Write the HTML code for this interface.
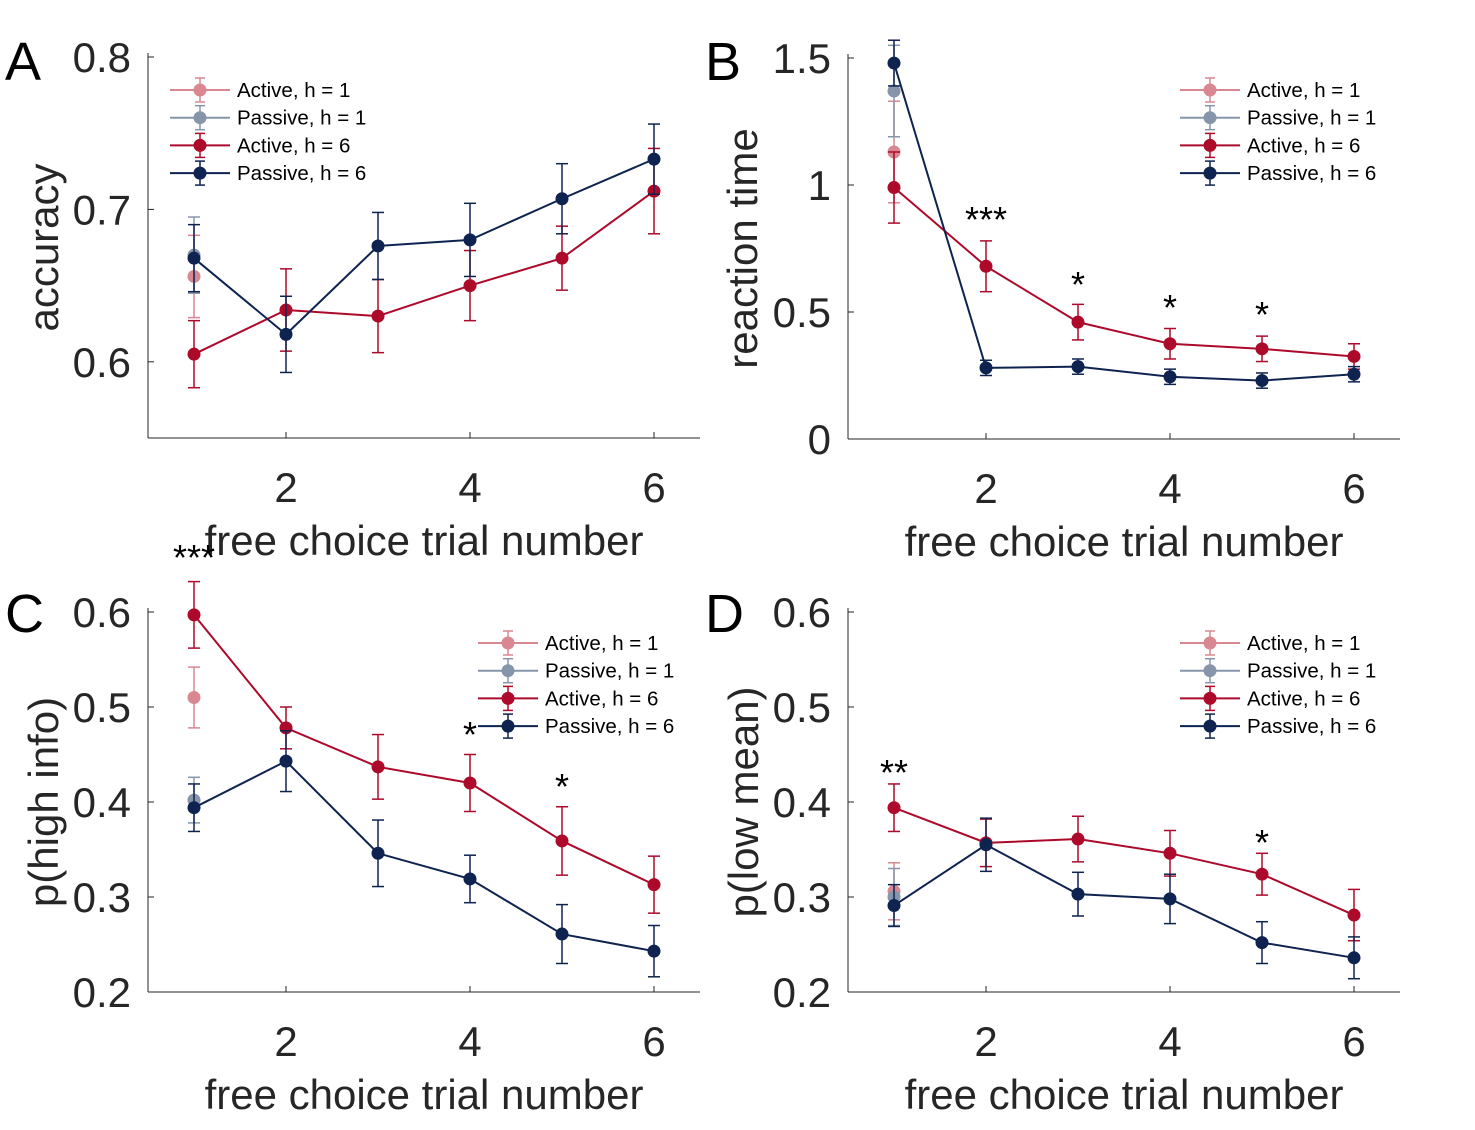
<!DOCTYPE html>
<html><head><meta charset="utf-8"><style>
body{margin:0;background:#fff;}
svg{display:block;font-family:"Liberation Sans",Arial,sans-serif;}
</style></head><body>
<svg id="fig" width="1475" height="1130"></svg>
<script>
const trials=[1,2,3,4,5,6];
const xTicks=[2,4,6];
// Panel A accuracy
const aActive6=[0.605,0.634,0.630,0.650,0.668,0.712];
const aActive6Err=[0.022,0.027,0.024,0.023,0.021,0.028];
const aPassive6=[0.668,0.618,0.676,0.680,0.707,0.733];
const aPassive6Err=[0.022,0.025,0.022,0.024,0.023,0.023];
const aActive1=[0.656];const aActive1Err=[0.027];
const aPassive1=[0.670];const aPassive1Err=[0.025];
// Panel B reaction time
const bActive6=[0.99,0.68,0.46,0.375,0.355,0.325];
const bActive6Err=[0.14,0.10,0.07,0.06,0.05,0.05];
const bPassive6=[1.48,0.28,0.285,0.245,0.23,0.255];
const bPassive6Err=[0.09,0.03,0.03,0.03,0.03,0.03];
const bActive1=[1.13];const bActive1Err=[0.2];
const bPassive1=[1.37];const bPassive1Err=[0.18];
// Panel C p(high info)
const cActive6=[0.597,0.478,0.437,0.420,0.359,0.313];
const cActive6Err=[0.035,0.022,0.034,0.030,0.036,0.030];
const cPassive6=[0.394,0.443,0.346,0.319,0.261,0.243];
const cPassive6Err=[0.025,0.032,0.035,0.025,0.031,0.027];
const cActive1=[0.51];const cActive1Err=[0.032];
const cPassive1=[0.402];const cPassive1Err=[0.024];
// Panel D p(low mean)
const dActive6=[0.394,0.357,0.361,0.346,0.324,0.281];
const dActive6Err=[0.025,0.025,0.024,0.024,0.022,0.027];
const dPassive6=[0.291,0.355,0.303,0.298,0.252,0.236];
const dPassive6Err=[0.022,0.028,0.023,0.026,0.022,0.022];
const dActive1=[0.306];const dActive1Err=[0.03];
const dPassive1=[0.30];const dPassive1Err=[0.03];

const C={a1:'#d98891',p1:'#8795ab',a6:'#ad0a2b',p6:'#0f2350'};
const NS='http://www.w3.org/2000/svg';
const svg=document.getElementById('fig');
function mk(tag,attrs,parent,text){const e=document.createElementNS(NS,tag);for(const k in attrs)e.setAttribute(k,attrs[k]);if(text!==undefined)e.textContent=text;(parent||svg).appendChild(e);return e;}

const panels=[
 {id:'a',letter:'A',lx:5,ly:80,x0:148,x1:700,yTop:57,yBot:438,yMin:0.55,yMax:0.8,yTicks:[0.6,0.7,0.8],yLab:['0.6','0.7','0.8'],ylabel:'accuracy',ylabX:58,
  a6:aActive6,a6e:aActive6Err,p6:aPassive6,p6e:aPassive6Err,a1:aActive1,a1e:aActive1Err,p1:aPassive1,p1e:aPassive1Err,legX:170,legY:90,stars:[]},
 {id:'b',letter:'B',lx:705,ly:80,x0:848,x1:1400,yTop:58,yBot:439,yMin:0,yMax:1.5,yTicks:[0,0.5,1,1.5],yLab:['0','0.5','1','1.5'],ylabel:'reaction time',ylabX:757,
  a6:bActive6,a6e:bActive6Err,p6:bPassive6,p6e:bPassive6Err,a1:bActive1,a1e:bActive1Err,p1:bPassive1,p1e:bPassive1Err,legX:1180,legY:90,
  stars:[[2,'***',215],[3,'*',280],[4,'*',303],[5,'*',310]]},
 {id:'c',letter:'C',lx:5,ly:632,x0:148,x1:700,yTop:612,yBot:992,yMin:0.2,yMax:0.6,yTicks:[0.2,0.3,0.4,0.5,0.6],yLab:['0.2','0.3','0.4','0.5','0.6'],ylabel:'p(high info)',ylabX:58,
  a6:cActive6,a6e:cActive6Err,p6:cPassive6,p6e:cPassive6Err,a1:cActive1,a1e:cActive1Err,p1:cPassive1,p1e:cPassive1Err,legX:478,legY:643,
  stars:[[1,'***',553],[4,'*',730],[5,'*',782]]},
 {id:'d',letter:'D',lx:705,ly:632,x0:848,x1:1400,yTop:612,yBot:992,yMin:0.2,yMax:0.6,yTicks:[0.2,0.3,0.4,0.5,0.6],yLab:['0.2','0.3','0.4','0.5','0.6'],ylabel:'p(low mean)',ylabX:758,
  a6:dActive6,a6e:dActive6Err,p6:dPassive6,p6e:dPassive6Err,a1:dActive1,a1e:dActive1Err,p1:dPassive1,p1e:dPassive1Err,legX:1180,legY:643,
  stars:[[1,'**',768],[5,'*',838]]}
];

panels.forEach(P=>{
 const g=mk('g',{});
 
 
 const xs=v=>P.x0+(v-0.5)/6*(P.x1-P.x0);
 const ys=v=>P.yBot-(v-P.yMin)/(P.yMax-P.yMin)*(P.yBot-P.yTop);
 const lt=mk('text',{x:P.lx,y:P.ly,'font-size':54,fill:'#000'},g,P.letter);
 
 mk('line',{x1:P.x0,y1:P.yTop-4,x2:P.x0,y2:P.yBot,stroke:'#262626','stroke-width':1},g);
 mk('line',{x1:P.x0,y1:P.yBot,x2:P.x1,y2:P.yBot,stroke:'#262626','stroke-width':1},g);
 P.yTicks.forEach((t,i)=>{const y=ys(t);
  mk('line',{x1:P.x0,y1:y,x2:P.x0+6,y2:y,stroke:'#262626'},g);
  const tx=mk('text',{x:P.x0-17,y:y+15,'font-size':42,fill:'#262626','text-anchor':'end'},g,P.yLab[i]);
  });
 xTicks.forEach(t=>{const x=xs(t);
  mk('line',{x1:x,y1:P.yBot,x2:x,y2:P.yBot-6,stroke:'#262626'},g);
  const tx=mk('text',{x:x,y:P.yBot+64,'font-size':42,fill:'#262626','text-anchor':'middle'},g,String(t));
  });
 const xl=mk('text',{x:(P.x0+P.x1)/2,y:P.yBot+117,'font-size':42,fill:'#262626','text-anchor':'middle'},g,'free choice trial number');
 
 const yc=(P.yTop+P.yBot)/2;
 const yl=mk('text',{x:P.ylabX,y:yc,'font-size':42,fill:'#262626','text-anchor':'middle',transform:`rotate(-90 ${P.ylabX} ${yc})`},g,P.ylabel);
 
 function series(vals,errs,col,name){
  const sg=mk('g',{},g);
  
  if(vals.length>1){mk('polyline',{points:vals.map((v,i)=>xs(trials[i])+','+ys(v)).join(' '),fill:'none',stroke:col,'stroke-width':2},sg);}
  vals.forEach((v,i)=>{const x=xs(trials[i]);const yt=ys(v+errs[i]),yb=ys(v-errs[i]);
   mk('line',{x1:x,y1:yt,x2:x,y2:yb,stroke:col,'stroke-width':1.5},sg);
   mk('line',{x1:x-6,y1:yt,x2:x+6,y2:yt,stroke:col,'stroke-width':1.5},sg);
   mk('line',{x1:x-6,y1:yb,x2:x+6,y2:yb,stroke:col,'stroke-width':1.5},sg);
   const c=mk('circle',{cx:x,cy:ys(v),r:6.5,fill:col},sg);
   });
 }
 series(P.a1,P.a1e,C.a1,'active-h1');
 series(P.p1,P.p1e,C.p1,'passive-h1');
 series(P.a6,P.a6e,C.a6,'active-h6');
 series(P.p6,P.p6e,C.p6,'passive-h6');
 const leg=mk('g',{},g);
 [['Active, h = 1',C.a1],['Passive, h = 1',C.p1],['Active, h = 6',C.a6],['Passive, h = 6',C.p6]].forEach((e,i)=>{
  const y=P.legY+i*27.7;const eg=mk('g',{},leg);
  
  mk('line',{x1:P.legX,y1:y,x2:P.legX+60,y2:y,stroke:e[1],'stroke-width':2},eg);
  mk('line',{x1:P.legX+30,y1:y-12,x2:P.legX+30,y2:y+12,stroke:e[1],'stroke-width':1.5},eg);
  mk('line',{x1:P.legX+25,y1:y-12,x2:P.legX+35,y2:y-12,stroke:e[1],'stroke-width':1.5},eg);
  mk('line',{x1:P.legX+25,y1:y+12,x2:P.legX+35,y2:y+12,stroke:e[1],'stroke-width':1.5},eg);
  mk('circle',{cx:P.legX+30,cy:y,r:6.5,fill:e[1]},eg);
  mk('text',{x:P.legX+67,y:y+7,'font-size':20.5,fill:'#000'},eg,e[0]);
 });
 P.stars.forEach(s=>{const t=mk('text',{x:xs(s[0]),y:s[2]+17,'font-size':36,fill:'#000','text-anchor':'middle'},g,s[1]);
  });
});
</script>
</body></html>
